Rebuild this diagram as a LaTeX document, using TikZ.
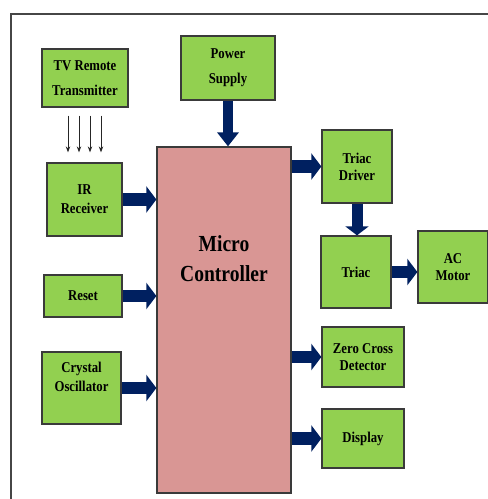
\documentclass[tikz,border=0pt]{standalone}
\usepackage{fontspec}
\setmainfont{Liberation Serif}[FakeStretch=0.85]
\usepackage{tikz}
\usetikzlibrary{arrows.meta,positioning}
\definecolor{blockGreen}{RGB}{146,208,80}
\definecolor{mcuPink}{RGB}{217,150,148}
\definecolor{busNavy}{RGB}{0,32,96}
\definecolor{edgeGray}{RGB}{58,58,58}
\definecolor{frameGray}{RGB}{70,70,70}

\tikzset{
    blk/.style={draw=edgeGray, line width=1.3pt, fill=blockGreen, align=center,
        font=\fontsize{15}{17}\selectfont\bfseries, inner sep=0pt},
    bigtext/.style={align=center, font=\fontsize{23}{30}\selectfont\bfseries},
    bus/.style={draw=busNavy, line width=12.5pt, -{Triangle[length=10pt,width=26pt]}},
    ray/.style={draw=black!85, line width=0.9pt, -{Stealth[length=6pt,width=4.5pt]}}
}

\begin{document}
\begin{tikzpicture}[x=1pt,y=-1pt]
    \useasboundingbox (0,0) rectangle (488,499);
    % outer frame
    \draw[frameGray, line width=1.2pt] (11,499) -- (11,14) -- (488,14);

    % blocks
    \node[blk, minimum width=86pt, minimum height=58pt] (tv) at (85,78) {TV Remote\\[8pt]Transmitter};
    \node[blk, minimum width=94pt, minimum height=64pt] (ps) at (228,68) {Power\\[8pt]Supply};
    \node[blk, minimum width=75pt, minimum height=73pt] (ir) at (84.5,199.5) {IR\\[2pt]Receiver};
    \node[blk, minimum width=78pt, minimum height=42pt] (rst) at (83,296) {Reset};
    \node[blk, minimum width=79pt, minimum height=72pt,
          label={[font=\fontsize{15}{19}\selectfont\bfseries, align=center, anchor=north, yshift=-7.5pt]north:Crystal\\Oscillator}]
          (osc) at (81.5,388) {};
    \node[draw=edgeGray, line width=1.3pt, fill=mcuPink, minimum width=134pt, minimum height=346pt,
          label={[bigtext, anchor=north, yshift=-86pt]north:Micro\\Controller}]
          (mc) at (224,320) {};
    \node[blk, minimum width=70pt, minimum height=73pt] (drv) at (357,166.5) {Triac\\Driver};
    \node[blk, minimum width=70pt, minimum height=72pt] (tri) at (356,272) {Triac};
    \node[blk, minimum width=70pt, minimum height=72pt] (mot) at (453,267) {AC\\Motor};
    \node[blk, minimum width=82pt, minimum height=60pt] (zcd) at (363,357) {Zero Cross\\Detector};
    \node[blk, minimum width=82pt, minimum height=59pt] (dsp) at (363,438.5) {Display};

    % infrared rays
    \coordinate (rayend) at ([yshift=10pt]ir.north);
    \foreach \dx in {-17,-6,5,16} {
        \coordinate (r) at ([xshift=\dx pt,yshift=-8pt]tv.south);
        \draw[ray] (r) -- (r |- rayend);
    }

    % block arrows
    \draw[bus, line width=10pt, -{Triangle[length=14pt,width=21pt]}] (ps.south) -- (ps.south |- mc.north);
    \draw[bus] (ir.east) -- (ir.east -| mc.west);
    \draw[bus] (rst.east) -- (rst.east -| mc.west);
    \draw[bus] (osc.east) -- (osc.east -| mc.west);
    \draw[bus] (mc.east |- drv) -- (drv.west);
    \draw[bus, line width=11pt, -{Triangle[length=9pt,width=23pt]}] (drv.south) -- (drv.south |- tri.north);
    \draw[bus] (tri.east) -- (tri.east -| mot.west);
    \draw[bus] (mc.east |- zcd) -- (zcd.west);
    \draw[bus] (mc.east |- dsp) -- (dsp.west);
\end{tikzpicture}
\end{document}
